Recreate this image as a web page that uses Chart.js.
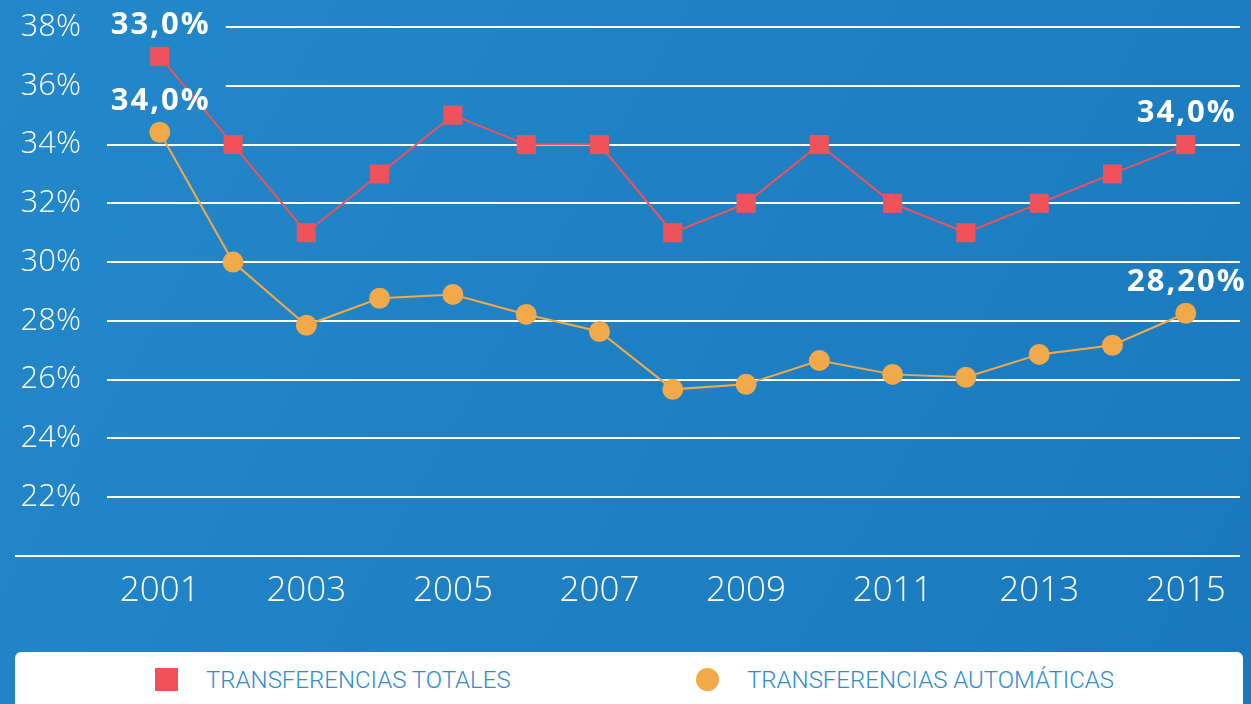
<!DOCTYPE html>
<html>
<head>
<meta charset="utf-8">
<script src="https://cdn.jsdelivr.net/npm/chart.js@4.4.1/dist/chart.umd.min.js"></script>
<style>
  html, body { margin: 0; padding: 0; }
  body { width: 1251px; height: 704px; overflow: hidden; position: relative; background: #1e80c4; }
  #wrap { position: absolute; left: 0; top: 0; width: 1251px; height: 704px; }
  #legend {
    position: absolute; left: 15px; top: 652px; width: 1228px; height: 70px;
    background: #fff; border-radius: 6px;
    font-family: "Roboto", sans-serif; font-weight: 300; font-size: 24px; color: #2f8ccf;
  }
  .item { position: absolute; top: 14px; line-height: 28px; white-space: nowrap; }
  .item span.mk { position: absolute; left: 0; top: 2px; width: 23px; height: 23px; }
  .item span.tx { position: absolute; left: 51px; top: 0; }
</style>
</head>
<body>
<div id="wrap"><canvas id="chart" width="1251" height="704"></canvas></div>
<div id="legend"></div>
<script>
const years = [2001, 2002, 2003, 2004, 2005, 2006, 2007, 2008, 2009, 2010, 2011, 2012, 2013, 2014, 2015];
const tickYears = [2001, 2003, 2005, 2007, 2009, 2011, 2013, 2015];
const totales = [37, 34, 31, 33, 35, 34, 34, 31, 32, 34, 32, 31, 32, 33, 34];
const automaticas = [34.42, 30, 27.85, 28.77, 28.9, 28.22, 27.64, 25.67, 25.84, 26.65, 26.18, 26.08, 26.86, 27.17, 28.26];
const totalesNotes = { 0: '33,0%', 14: '34,0%' };
const automaticasNotes = { 0: '34,0%', 14: '28,20%' };

let bgGrad = null;
function makeGrad(ctx, w, h) {
    const g = ctx.createLinearGradient(0, 0, w, h);
    g.addColorStop(0, '#2388ca');
    g.addColorStop(1, '#1a79bd');
    return g;
}

// background + bottom baseline
const bgPlugin = {
    id: 'bg',
    beforeDraw(chart) {
        const ctx = chart.ctx;
        bgGrad = makeGrad(ctx, chart.width, chart.height);
        ctx.save();
        ctx.fillStyle = bgGrad;
        ctx.fillRect(0, 0, chart.width, chart.height);
        ctx.restore();
    },
    afterDraw(chart) {
        const ctx = chart.ctx;
        const y = chart.scales.y.getPixelForValue(20);
        ctx.save();
        ctx.strokeStyle = '#ffffff';
        ctx.lineWidth = 2;
        ctx.beginPath();
        ctx.moveTo(15, y);
        ctx.lineTo(chart.chartArea.right, y);
        ctx.stroke();
        ctx.restore();
    }
};

// value callouts above first/last points
function noteBoxes(chart, cb) {
    const ctx = chart.ctx;
    ctx.save();
    ctx.font = 'bold 31px "Open Sans", sans-serif';
    ctx.letterSpacing = '2px';
    const all = [totalesNotes, automaticasNotes];
    all.forEach((notes, di) => {
        const meta = chart.getDatasetMeta(di);
        Object.keys(notes).forEach(k => {
            const pt = meta.data[k];
            const txt = notes[k];
            const w = ctx.measureText(txt).width;
            const cy = pt.y - 32;
            cb(ctx, txt, pt.x, cy, w);
        });
    });
    ctx.restore();
}
const notePlugin = {
    id: 'notes',
    beforeDatasetsDraw(chart) {
        noteBoxes(chart, (ctx, txt, cx, cy, w) => {
            ctx.fillStyle = bgGrad;
            ctx.fillRect(cx - w / 2 - 10, cy - 16, w + 26, 32);
        });
    },
    afterDatasetsDraw(chart) {
        noteBoxes(chart, (ctx, txt, cx, cy, w) => {
            ctx.fillStyle = '#ffffff';
            ctx.textAlign = 'center';
            ctx.textBaseline = 'middle';
            ctx.fillText(txt, cx + 1, cy + 1);
        });
    }
};

const chart = new Chart(document.getElementById('chart'), {
    type: 'line',
    data: {
        datasets: [
            {
                label: 'TRANSFERENCIAS TOTALES',
                data: years.map((y, i) => ({ x: y, y: totales[i] })),
                borderColor: '#f0525c',
                backgroundColor: '#f0525c',
                borderWidth: 2,
                pointStyle: 'rect',
                pointRadius: 13.5,
                pointHoverRadius: 13.5,
                pointBorderWidth: 0,
                tension: 0,
                clip: false
            },
            {
                label: 'TRANSFERENCIAS AUTOMÁTICAS',
                data: years.map((y, i) => ({ x: y, y: automaticas[i] })),
                borderColor: '#f2a94a',
                backgroundColor: '#f2a94a',
                borderWidth: 2,
                pointStyle: 'circle',
                pointRadius: 10.5,
                pointHoverRadius: 10.5,
                pointBorderWidth: 0,
                tension: 0,
                clip: false
            }
        ]
    },
    options: {
        responsive: false,
        animation: false,
        layout: { autoPadding: false, padding: { left: 0, right: 11, top: 27, bottom: 0 } },
        plugins: { legend: { display: false }, tooltip: { enabled: false } },
        scales: {
            x: {
                type: 'linear',
                min: 2000.28,
                max: 2015.74,
                afterBuildTicks: s => { s.ticks = tickYears.map(v => ({ value: v })); },
                afterFit: s => { s.height = 148; s.paddingLeft = 0; s.paddingRight = 0; },
                grid: { display: false },
                border: { display: false },
                ticks: {
                    color: '#ffffff',
                    padding: 6,
                    maxRotation: 0,
                    autoSkip: false,
                    font: { family: '"Open Sans", sans-serif', size: 35, weight: 300 },
                    callback: v => String(v)
                }
            },
            y: {
                min: 20,
                max: 38,
                afterFit: s => { s.width = 107; s.paddingTop = 0; s.paddingBottom = 0; },
                grid: { color: '#ffffff', lineWidth: 2, drawTicks: false },
                border: { display: false },
                ticks: {
                    stepSize: 2,
                    color: '#ffffff',
                    padding: 26,
                    font: { family: '"Open Sans", sans-serif', size: 31, weight: 300 },
                    callback: v => v === 20 ? '' : v + '%'
                }
            }
        }
    },
    plugins: [bgPlugin, notePlugin]
});

// html legend from the datasets
const legend = document.getElementById('legend');
const legendX = [140, 681];
chart.data.datasets.forEach((ds, i) => {
    const it = document.createElement('div');
    it.className = 'item';
    it.style.left = legendX[i] + 'px';
    const mk = document.createElement('span');
    mk.className = 'mk';
    mk.style.background = ds.backgroundColor;
    if (ds.pointStyle === 'circle') mk.style.borderRadius = '50%';
    const tx = document.createElement('span');
    tx.className = 'tx';
    tx.textContent = ds.label;
    it.appendChild(mk);
    it.appendChild(tx);
    legend.appendChild(it);
});
</script>
</body>
</html>
